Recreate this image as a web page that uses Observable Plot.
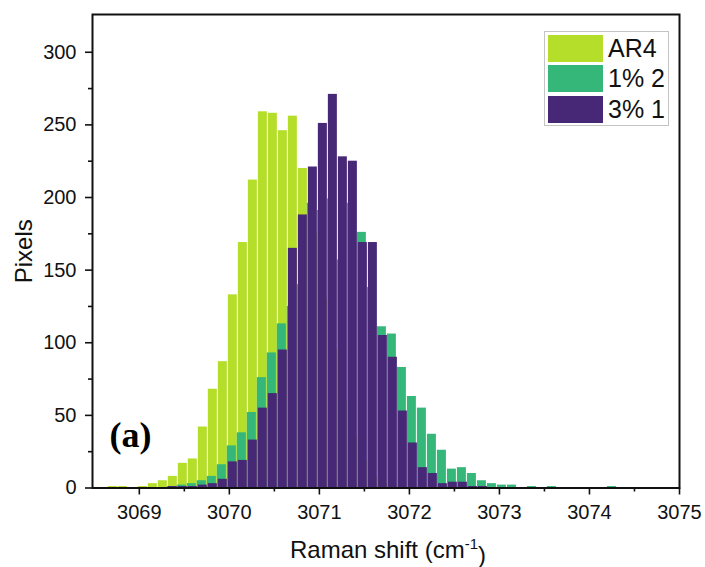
<!DOCTYPE html>
<html>
<head>
<meta charset="utf-8">
<script src="https://cdn.jsdelivr.net/npm/d3@7"></script>
<script src="https://cdn.jsdelivr.net/npm/@observablehq/plot@0.6"></script>
<style>
  body { margin: 0; background: #fff; }
  #wrap { position: relative; width: 705px; height: 567px; font-family: "Liberation Sans", Arial, sans-serif; }
  #legend { position: absolute; left: 544px; top: 31px; width: 125px; height: 95px; border: 1px solid #c4c4c4; background: #fff; box-sizing: border-box; }
  .sw { position: absolute; left: 3px; width: 55px; height: 27px; }
  .lb { position: absolute; left: 63px; height: 27px; line-height: 27px; font-size: 25px; color: #111; white-space: nowrap; }
</style>
</head>
<body>
<div id="wrap"></div>
<script>
// Histogram bin grid (Raman shift, cm^-1)
const binStart = 3068.65;
const binWidth = 0.1111;

const seriesNames = ["AR4", "1% 2", "3% 1"];
const seriesColors = ["#b5de2b", "#35b779", "#472877"];

// Pixel counts per bin (51 bins)
const ar4 = [1, 1, 0, 1, 3, 5, 8, 17, 20, 42, 68, 87,
  133, 169, 212, 259, 258, 246, 256, 220, 175, 130, 95, 60, 35, 18, 8, 3, 1,
  0, 0, 0, 0, 0, 0, 0, 0, 0, 0, 0, 0, 0, 0, 0, 0, 0, 0, 0, 0, 0, 0];
const onePct2 = [0, 0, 0, 0, 0, 0, 1, 2, 3, 5, 8, 16,
  29, 38, 52, 76, 93, 113, 125, 140, 196, 191, 199, 157, 196, 176, 138, 111, 106,
  83, 63, 55, 37, 26, 13, 14, 10, 5, 3, 2, 2, 0, 1, 0, 1, 0, 0, 0, 0, 0, 1];
const threePct1 = [0, 0, 0, 0, 0, 0, 1, 1, 1, 2, 3, 6,
  18, 19, 33, 55, 65, 95, 165, 188, 221, 251, 271, 228, 225, 169, 169, 105, 90,
  53, 31, 14, 10, 3, 4, 4, 1, 1, 0, 0, 0, 0, 0, 0, 0, 0, 0, 0, 0, 0, 0];

const xTicks = [3069, 3070, 3071, 3072, 3073, 3074, 3075];
const xMinorTicks = [3069.5, 3070.5, 3071.5, 3072.5, 3073.5, 3074.5];
const yTicks = [0, 50, 100, 150, 200, 250, 300];
const yMinorTicks = [25, 75, 125, 175, 225, 275];

function toRows(values, name) {
  return values.map((v, i) => ({
    x1: binStart + i * binWidth,
    x2: binStart + (i + 1) * binWidth,
    count: v,
    series: name
  }));
}
const rowsA = toRows(ar4, seriesNames[0]);
const rowsB = toRows(onePct2, seriesNames[1]);
const rowsC = toRows(threePct1, seriesNames[2]);

const plot = Plot.plot({
  width: 705,
  height: 567,
  marginLeft: 92,
  marginRight: 26,
  marginTop: 14,
  marginBottom: 79.5,
  style: { fontFamily: "Liberation Sans, Arial, sans-serif", background: "#fff", color: "#111" },
  x: { domain: [3068.48, 3075] },
  y: { domain: [0, 326] },
  marks: [
    Plot.rectY(rowsA, { x1: "x1", x2: "x2", y: "count", fill: seriesColors[0], insetLeft: 0.5, insetRight: 0.5 }),
    Plot.rectY(rowsB, { x1: "x1", x2: "x2", y: "count", fill: seriesColors[1], insetLeft: 0.5, insetRight: 0.5, dx: -1 }),
    Plot.rectY(rowsC, { x1: "x1", x2: "x2", y: "count", fill: seriesColors[2], insetLeft: 0.5, insetRight: 0.5 }),
    Plot.axisX({ ticks: xTicks, tickFormat: d => String(d), tickSize: 7, tickPadding: 10, fontSize: 20, strokeWidth: 1.6, label: null, anchor: "bottom" }),
    Plot.axisX({ ticks: xMinorTicks, tickSize: 4, tickFormat: () => "", strokeWidth: 1.6, label: null, anchor: "bottom" }),
    Plot.axisY({ ticks: yTicks, tickFormat: d => String(d), tickSize: 7, tickPadding: 9, fontSize: 20, strokeWidth: 1.6, label: null, anchor: "left" }),
    Plot.axisY({ ticks: yMinorTicks, tickSize: 4, tickFormat: () => "", strokeWidth: 1.6, label: null, anchor: "left" }),
    Plot.frame({ stroke: "#111", strokeWidth: 2 }),
    Plot.text(["Pixels"], { text: d => d, frameAnchor: "left", dx: -68, rotate: -90, fontSize: 24, textAnchor: "middle", lineAnchor: "middle", fill: "#111" }),
    Plot.text(["Raman shift (cm-1)"], { text: d => d, frameAnchor: "bottom", dx: 2, dy: 62, fontSize: 24, textAnchor: "middle", lineAnchor: "middle", fill: "#111" }),
    Plot.text(["(a)"], { text: d => d, frameAnchor: "bottom-left", dx: 38, dy: -53, fontSize: 36, fontWeight: "bold", fontFamily: "Liberation Serif, Times New Roman, serif", textAnchor: "middle", lineAnchor: "middle", fill: "#000" })
  ]
});

// superscript in the x-axis title
d3.select(plot).selectAll("text").each(function () {
  if (this.textContent === "Raman shift (cm-1)") {
    const t = d3.select(this);
    t.text(null);
    t.append("tspan").text("Raman shift (cm");
    t.append("tspan").attr("dy", "-0.55em").attr("font-size", "15px").text("-1");
    t.append("tspan").attr("dy", "0.55em").text(")");
  }
});

const wrap = document.getElementById("wrap");
wrap.appendChild(plot);

const legend = document.createElement("div");
legend.id = "legend";
seriesNames.forEach((name, i) => {
  const sw = document.createElement("div");
  sw.className = "sw";
  sw.style.top = (3 + i * 30.3) + "px";
  sw.style.background = seriesColors[i];
  const lb = document.createElement("div");
  lb.className = "lb";
  lb.style.top = (3 + i * 30.3) + "px";
  lb.textContent = name;
  legend.appendChild(sw);
  legend.appendChild(lb);
});
wrap.appendChild(legend);
</script>
</body>
</html>
